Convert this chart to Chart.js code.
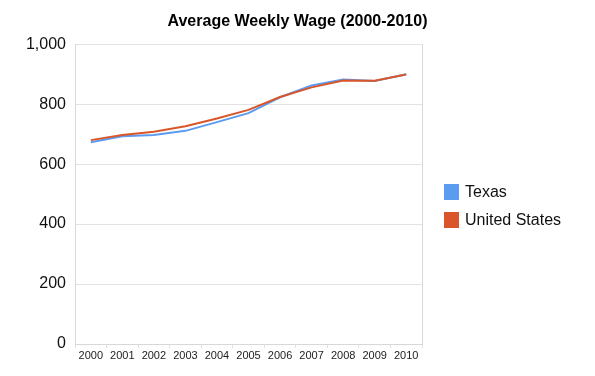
<!DOCTYPE html>
<html>
<head>
<meta charset="utf-8">
<script src="https://cdn.jsdelivr.net/npm/chart.js@4/dist/chart.umd.min.js"></script>
<style>
    html, body { margin: 0; padding: 0; background: #fff; }
    #wrap { position: relative; width: 595px; height: 376px; }
    #legend { position: absolute; left: 444px; top: 183px; font-family: "Liberation Sans", Arial, sans-serif; font-size: 16px; color: #111; }
    #legend div { display: flex; align-items: center; height: 18px; margin-bottom: 10px; }
    #legend span.sw { display: inline-block; width: 15px; height: 16px; margin-right: 6px; }
</style>
</head>
<body>
<div id="wrap">
    <canvas id="chart" width="595" height="376"></canvas>
    <div id="legend"></div>
</div>
<script>
    const years = ["2000", "2001", "2002", "2003", "2004", "2005", "2006", "2007", "2008", "2009", "2010"];
    const texasWage = [673, 693, 697, 711, 740, 770, 823, 862, 882, 877, 900];
    const usWage = [680, 697, 708, 726, 752, 781, 824, 856, 879, 878, 899];
    const seriesNames = ["Texas", "United States"];
    const seriesColors = ["#5b9cf0", "#d9562b"];

    const datasets = [texasWage, usWage].map((data, i) => ({
        label: seriesNames[i],
        data,
        borderColor: seriesColors[i],
        backgroundColor: seriesColors[i],
        borderWidth: 2,
        pointRadius: 0,
        tension: 0,
        order: 2 - i
    }));

    document.getElementById("legend").innerHTML = seriesNames.map((name, i) =>
        `<div><span class="sw" style="background:${seriesColors[i]}"></span>${name}</div>`
    ).join("");

    const font = "'Liberation Sans', Arial, sans-serif";

    new Chart(document.getElementById("chart").getContext("2d"), {
        type: "line",
        data: { labels: years, datasets },
        options: {
            responsive: false,
            animation: false,
            layout: { padding: 0 },
            plugins: {
                legend: { display: false },
                tooltip: { enabled: false },
                title: {
                    display: true,
                    text: "Average Weekly Wage (2000-2010)",
                    color: "#000",
                    font: { family: font, size: 16, weight: "bold", lineHeight: 1.2 },
                    padding: { top: 12, bottom: 13 },
                    fullSize: true
                }
            },
            scales: {
                x: {
                    offset: true,
                    grid: { display: true, drawOnChartArea: false, drawTicks: true, tickLength: 4, color: "#e2e2e2", offset: true },
                    border: { display: true, color: "#d8d8d8" },
                    ticks: { color: "#222", font: { family: font, size: 11 }, padding: 1, maxRotation: 0, autoSkip: false },
                    afterFit: s => { s.height = 32; }
                },
                y: {
                    min: 0,
                    max: 1000,
                    grid: { color: "#e2e2e2", drawTicks: false },
                    border: { display: true, color: "#d8d8d8" },
                    ticks: {
                        stepSize: 200,
                        color: "#111",
                        padding: 9,
                        font: { family: font, size: 16 },
                        callback: v => v.toLocaleString("en-US")
                    },
                    afterFit: s => { s.width = 75; }
                },
                yRight: {
                    position: "right",
                    min: 0,
                    max: 1000,
                    grid: { display: false },
                    border: { display: true, color: "#d8d8d8" },
                    ticks: { display: false },
                    afterFit: s => { s.width = 173; }
                }
            }
        }
    });
</script>
</body>
</html>
